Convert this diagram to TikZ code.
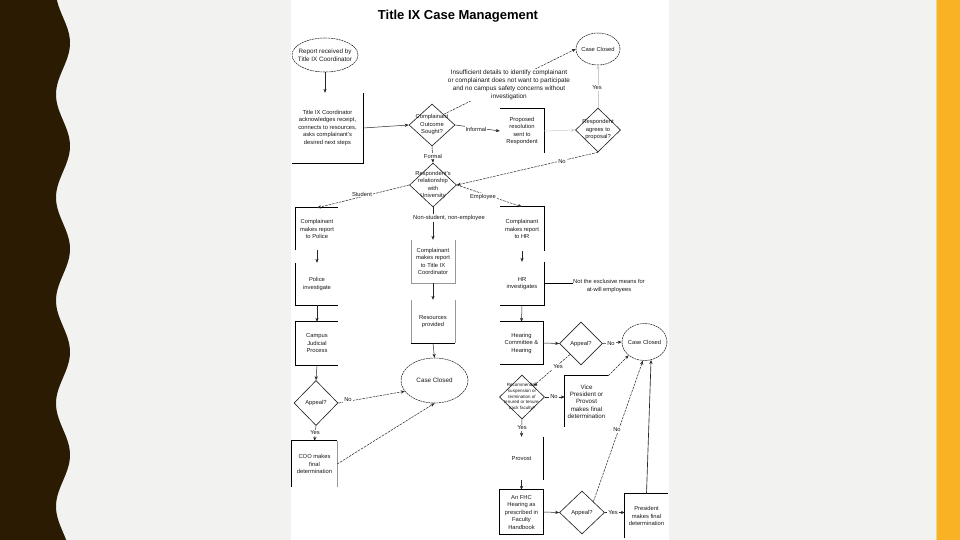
\documentclass[tikz,border=0pt]{standalone}
\usepackage{fontspec}
\setmainfont{Liberation Sans}
\usetikzlibrary{shapes.geometric,arrows.meta}
\definecolor{bgray}{RGB}{242,242,240}
\definecolor{dbrown}{RGB}{43,27,3}
\definecolor{gold}{RGB}{249,178,36}
\definecolor{goldl}{RGB}{238,210,150}
\begin{document}
\begin{tikzpicture}[x=1pt,y=-1pt,
  txt/.style={font=\fontsize{5.8}{7.5}\selectfont, align=center, text=black!90, inner sep=0.5pt},
  etxt/.style={txt, font=\fontsize{6.3}{7.8}\selectfont},
  small/.style={font=\fontsize{4.5}{5.7}\selectfont, align=center, text=black!90, inner sep=0pt},
  lbl/.style={txt, fill=white, inner sep=1pt},
  boxn/.style={txt, inner sep=0pt},
  edge/.style={draw=black, line width=0.75pt},
  gedge/.style={draw=black!40, line width=0.6pt},
  dia/.style={diamond, draw=black!85, line width=0.65pt, inner sep=0pt},
  ell/.style={ellipse, draw=black!85, line width=0.55pt, dash pattern=on 2pt off 0.7pt, inner sep=0pt},
  arr/.style={-{Stealth[length=4pt,width=3.2pt]}, line width=0.5pt, draw=black!85},
  darr/.style={arr, dash pattern=on 2.5pt off 1pt},
  garr/.style={arr, draw=black!20}
]
\useasboundingbox (0,0) rectangle (960,540);
% background
\fill[bgray] (0,0) rectangle (960,540);
\fill[dbrown] (0,0) -- plot[domain=0:540,samples=120,smooth] ({63+7*cos(3.49515*(\x-43))},\x) -- (0,540) -- cycle;
\fill[goldl] (935.5,0) rectangle (937.5,540);
\fill[gold] (937,0) rectangle (960,540);
\fill[white] (290.5,0) rectangle (669,540);

% title
\node[font=\bfseries\fontsize{13}{15}\selectfont, inner sep=0pt] (title) at (458,16) {Title IX Case Management};

% ---------- top part ----------
\node[ell, minimum width=66pt, minimum height=34pt] (e1) at (325,55) {};
\node[etxt] (e1t) at (e1) {Report received by\\Title IX Coordinator};

\node[boxn, minimum width=71pt, minimum height=70pt] (b1) at (327.5,128)
  {Title IX Coordinator\\acknowledges receipt,\\connects to resources,\\asks complainant's\\desired next steps};
\draw[edge] (b1.north east) -- (b1.south east) -- (b1.south west);

\node[dia, minimum width=46pt, minimum height=42pt] (d1) at (432,125) {};
\node[txt] (d1t) at (d1) {Complainant\\Outcome\\Sought?};

\node[ell, minimum width=44pt, minimum height=32pt] (cc1) at (598,49) {};
\node[txt] (cc1t) at (cc1) {Case Closed};

\node[dia, minimum width=45pt, minimum height=44pt] (d2) at (598,130) {};
\node[txt] (d2t) at (d2) {Respondent\\agrees to\\proposal?};

\node[boxn, minimum width=44pt, minimum height=44pt] (p1) at (522,131)
  {Proposed\\resolution\\sent to\\Respondent};
\draw[edge] (p1.north west) -- (p1.north east) -- (p1.south east);

\node[dia, minimum width=47pt, minimum height=44pt] (d3) at (433,185) {};
\node[txt] (d3t) at (d3) {Respondent's\\relationship\\with\\University};

% connectors top
\draw[arr] (e1.south) -- (e1.south |- b1.north);
\draw[arr] (b1.east) -- (d1.west);
\draw[darr] (d1.north east) -- (cc1.west);
\node[lbl, font=\fontsize{6.4}{7.8}\selectfont] (insuf) at (509,85) {Insufficient details to identify complainant\\or complainant does not want to participate\\and no campus safety concerns without\\investigation};
\draw[arr] (d1.east) -- (p1.west);
\node[lbl] (linf) at (476,129) {Informal};
\draw[garr] (p1.east) -- (d2.west);
\draw[garr] (d2.north) -- (cc1.south);
\node[lbl] (lyes1) at (597,88) {Yes};
\draw[darr] (d2.south) -- (d3.east);
\node[lbl] (lno1) at (562,162) {No};
\draw[arr] (d1.south) -- (d3.north);
\node[lbl] (lformal) at (433,156) {Formal};

% ---------- left column ----------
\node[boxn, minimum width=42pt, minimum height=42pt] (pol) at (317,229) {Complainant\\makes report\\to Police};
\draw[edge] (pol.south west) -- (pol.north west) -- (pol.north east);
\node[boxn, minimum width=42pt, minimum height=42pt] (pinv) at (317,284) {Police\\investigate};
\draw[edge] (pinv.north west) -- (pinv.south west) -- (pinv.south east);
\node[boxn, minimum width=42pt, minimum height=43pt] (cjp) at (317,343.5) {Campus\\Judicial\\Process};
\draw[edge] (cjp.north east) -- (cjp.north west) -- (cjp.south west) -- (cjp.south east);
\node[dia, minimum width=44pt, minimum height=45pt] (d4) at (316,403) {};
\node[txt] (d4t) at (d4) {Appeal?};
\node[boxn, minimum width=45pt, minimum height=46pt] (coo) at (314.5,464) {COO makes\\final\\determination};
\draw[edge] (coo.south west) -- (coo.north west) -- (coo.north east);
\draw[gedge] (coo.north east) -- (coo.south east);

\draw[darr] (d3.west) -- (pol.north);
\node[lbl] (lstud) at (362,194) {Student};
\draw[arr] (pol.south) -- (pinv.north);
\draw[arr] (pinv.south) -- (cjp.north);
\draw[arr] (cjp.south) -- (d4.north);
\draw[arr] (d4.south) -- (coo.north);
\node[lbl] (lyes2) at (315,433) {Yes};

% ---------- middle column ----------
\node[boxn, minimum width=44pt, minimum height=43pt] (ctix) at (433,261.5) {Complainant\\makes report\\to Title IX\\Coordinator};
\draw[gedge] (ctix.north west) -- (ctix.south west) -- (ctix.south east) -- (ctix.north east);
\node[boxn, minimum width=44pt, minimum height=43pt] (res) at (433,321.5) {Resources\\provided};
\draw[gedge] (res.north west) -- (res.south west);
\draw[gedge] (res.north east) -- (res.south east);
\draw[edge] (res.south west) -- (res.south east);
\node[ell, minimum width=67pt, minimum height=45pt] (cc2) at (434.5,380.5) {};
\node[etxt] (cc2t) at (cc2) {Case Closed};

\draw[arr] (d3.south) -- (ctix.north);
\node[lbl] (lnon) at (449,218) {Non-student, non-employee};
\draw[arr] (ctix.south) -- (res.north);
\draw[arr] (res.south) -- (cc2.north);
\draw[darr] (d4.east) -- (cc2.200);
\node[lbl] (lno2) at (348,400) {No};
\draw[darr] (coo.east) -- (cc2.south);

% ---------- right column ----------
\node[boxn, minimum width=44pt, minimum height=44pt] (hrr) at (522,229) {Complainant\\makes report\\to HR};
\draw[edge] (hrr.north west) -- (hrr.north east) -- (hrr.south east);
\node[boxn, minimum width=44pt, minimum height=43pt] (hri) at (522,283.5) {HR\\investigates};
\draw[edge] (hri.north east) -- (hri.south east) -- (hri.south west);
\node[txt] (note) at (609,286) {Not the exclusive means for\\at-will employees};
\draw[edge, line width=0.6pt] (hri.east) -- (hri.east -| note.west);

\node[boxn, minimum width=43pt, minimum height=42pt] (hear) at (521.5,343) {Hearing\\Committee \&\\Hearing};
\draw[edge] (hear.north west) -- (hear.north east) -- (hear.south east) -- (hear.south west);
\node[dia, minimum width=43pt, minimum height=43pt] (d5) at (581,343.5) {};
\node[txt] (d5t) at (d5) {Appeal?};
\node[ell, minimum width=45pt, minimum height=37pt] (cc3) at (644.5,342) {};
\node[txt] (cc3t) at (cc3) {Case Closed};

\node[dia, minimum width=45pt, minimum height=44pt] (d6) at (522,397) {};
\node[small] (d6t) at (d6) {Recommended\\suspension or\\termination of\\tenured or tenure-\\track faculty?};
\node[boxn, font=\fontsize{6.2}{7.3}\selectfont, minimum width=43pt, minimum height=51pt] (vp) at (586.5,401.5) {Vice\\President or\\Provost\\makes final\\determination};
\draw[edge] (vp.north east) -- (vp.north west) -- (vp.south west);

\node[boxn, minimum width=43pt, minimum height=43pt] (prov) at (521.5,458.5) {Provost};
\draw[edge] (prov.north east) -- (prov.south east);
\node[boxn, minimum width=43pt, minimum height=44pt] (fhc) at (521.5,512) {An FHC\\Hearing as\\prescribed in\\Faculty\\Handbook};
\draw[edge] (fhc.north west) rectangle (fhc.south east);
\node[dia, minimum width=45pt, minimum height=43pt] (d7) at (582,512.5) {};
\node[txt] (d7t) at (d7) {Appeal?};
\node[boxn, minimum width=43pt, minimum height=44pt] (pres) at (646.5,516) {President\\makes final\\determination};
\draw[edge] (pres.south west) -- (pres.north west) -- (pres.north east);

\draw[darr] (d3.east) -- (hrr.north);
\node[lbl] (lemp) at (483,197) {Employee};
\draw[arr] (hrr.south) -- (hri.north);
\draw[arr] (hri.south) -- (hear.north);
\draw[arr] (hear.east) -- (d5.west);
\draw[arr] (d5.east) -- (cc3.west);
\node[lbl] (lno3) at (611,343.5) {No};
\draw[darr] (d5.south west) -- (d6.north east);
\node[lbl] (lyes3) at (558,367) {Yes};
\draw[arr] (d6.east) -- (vp.west |- d6.east);
\node[lbl] (lno4) at (554,397) {No};
\draw[darr] (vp.north east) -- (cc3.220);
\draw[arr] (d6.south) -- (prov.north);
\node[lbl] (lyes4) at (522,428) {Yes};
\draw[arr] (prov.south) -- (fhc.north);
\draw[arr] (fhc.east) -- (d7.west);
\draw[arr] (d7.east) -- (pres.west |- d7.east);
\node[lbl] (lyes5) at (613,512.5) {Yes};
\draw[darr] (d7.north east) -- (cc3.265);
\node[lbl] (lno5) at (617,430) {No};
\draw[arr, line width=0.65pt] (pres.north) -- (cc3.290);
\end{tikzpicture}
\end{document}
